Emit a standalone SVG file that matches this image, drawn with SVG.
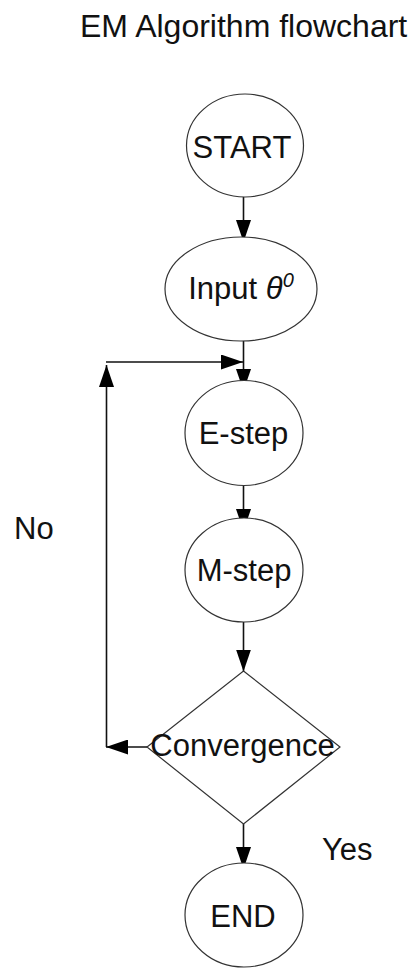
<svg xmlns="http://www.w3.org/2000/svg" width="417" height="968" viewBox="0 0 417 968">
  <style>
    .node { fill: #ffffff; stroke: #333333; stroke-width: 1.2; }
    .lbl { font-family: "Liberation Sans", Arial, sans-serif; font-size: 31px; fill: #111111; text-anchor: middle; }
    .free { font-family: "Liberation Sans", Arial, sans-serif; font-size: 31px; fill: #111111; }
    .conn { stroke: #111111; stroke-width: 1.6; fill: none; marker-end: url(#arrow); }
  </style>
  <defs>
    <marker id="arrow" markerUnits="userSpaceOnUse" markerWidth="22" markerHeight="15" refX="22" refY="7.5" orient="auto">
      <path d="M0,0 L22,7.5 L0,15 Z" fill="#000000"/>
    </marker>
  </defs>
  <rect width="417" height="968" fill="#ffffff"/>
  <text id="title" x="80" y="37" class="free" style="font-size:32px">EM Algorithm flowchart</text>

  <g id="connectors">
    <line class="conn" x1="243.5" y1="197" x2="243.5" y2="242"/>
    <line class="conn" x1="243.5" y1="341" x2="243.5" y2="391"/>
    <line class="conn" x1="243.5" y1="486" x2="243.5" y2="531"/>
    <line class="conn" x1="243.5" y1="622" x2="243.5" y2="671.5"/>
    <line class="conn" x1="243.5" y1="824" x2="243.5" y2="869"/>
    <line class="conn" x1="147" y1="747" x2="106" y2="747"/>
    <line class="conn" x1="106.5" y1="747" x2="106.5" y2="365"/>
    <line class="conn" x1="106" y1="362" x2="243" y2="362"/>
  </g>

  <g id="start">
    <ellipse class="node" cx="245" cy="145.5" rx="58.5" ry="51.5"/>
    <text class="lbl" x="242" y="158">START</text>
  </g>
  <g id="input">
    <ellipse class="node" cx="241" cy="289" rx="76" ry="52"/>
    <text class="lbl" x="241" y="299">Input <tspan font-style="italic">θ</tspan><tspan font-style="italic" font-size="20" dy="-12">0</tspan></text>
  </g>
  <g id="estep">
    <ellipse class="node" cx="244" cy="433" rx="59" ry="52.5"/>
    <text class="lbl" x="243.5" y="444">E-step</text>
  </g>
  <g id="mstep">
    <ellipse class="node" cx="244" cy="570" rx="59" ry="52"/>
    <text class="lbl" x="244" y="581">M-step</text>
  </g>
  <g id="convergence">
    <polygon class="node" fill="none" style="fill:none" points="243.5,671 340,747 243.5,824 147,747"/>
    <text class="lbl" x="242.5" y="756">Convergence</text>
  </g>
  <g id="end">
    <ellipse class="node" cx="244" cy="915" rx="59" ry="52"/>
    <text class="lbl" x="243" y="927">END</text>
  </g>
  <text id="no" x="14" y="539" class="free">No</text>
  <text id="yes" x="322" y="860" class="free">Yes</text>
</svg>
